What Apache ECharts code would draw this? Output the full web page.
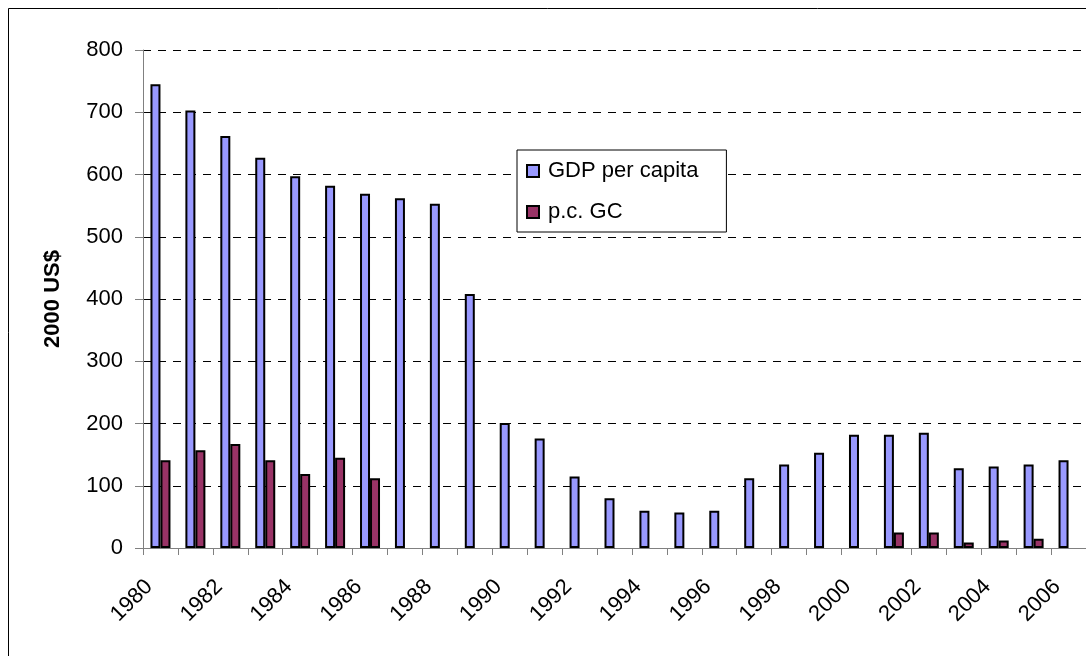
<!DOCTYPE html>
<html>
<head>
<meta charset="utf-8">
<script src="https://cdn.jsdelivr.net/npm/echarts@6/dist/echarts.min.js"></script>
<style>html,body{margin:0;padding:0;background:#fff}#c{width:1086px;height:656px}</style>
</head>
<body>
<div id="c"></div>
<script>
const years = ['1980','1981','1982','1983','1984','1985','1986','1987','1988','1989','1990','1991','1992','1993','1994','1995','1996','1997','1998','1999','2000','2001','2002','2003','2004','2005','2006'];
const gdpPerCapita = [745, 703, 662, 627, 597, 582, 569, 562, 553, 408, 201, 176, 115, 80, 60, 57, 60, 112, 134, 153, 182, 182, 185, 128, 131, 134, 141];
const pcGC = [141, 157, 167, 141, 119, 145, 112, null, null, null, null, null, null, null, null, null, null, null, null, null, null, 25, 25, 9, 12, 15, null];
const yTicks = [0, 800, 100];

const FONT = 'Liberation Sans, Arial, sans-serif';
const chart = echarts.init(document.getElementById('c'), null, {renderer: 'canvas'});
chart.setOption({
  backgroundColor: '#fff',
  animation: false,
  textStyle: {fontFamily: FONT, color: '#000'},
  graphic: [{
    type: 'rect', silent: true, z: -10,
    shape: {x: 8.5, y: 8.5, width: 1100, height: 700},
    style: {fill: 'none', stroke: '#000', lineWidth: 1}
  }],
  grid: {left: 143, top: 50, width: 945, height: 498, containLabel: false},
  legend: {
    orient: 'vertical', left: 517, top: 150,
    backgroundColor: '#fff', borderColor: '#000', borderWidth: 1,
    padding: [10, 28, 9, 9], itemGap: 19,
    itemWidth: 12, itemHeight: 12, icon: 'rect',
    textStyle: {fontFamily: FONT, fontSize: 22, color: '#000', padding: [0, 0, 0, 4]},
    data: ['GDP per capita', 'p.c. GC']
  },
  xAxis: {
    type: 'category', data: years,
    axisLine: {lineStyle: {color: '#808080', width: 1}},
    axisTick: {show: true, interval: 0, length: 7, lineStyle: {color: '#808080'}},
    axisLabel: {interval: 1, rotate: 45, margin: 24, padding: [0, 16, 0, 0], fontSize: 22, color: '#000', fontFamily: FONT},
    splitLine: {show: false}
  },
  yAxis: {
    type: 'value', min: yTicks[0], max: yTicks[1], interval: yTicks[2],
    name: '2000 US$', nameLocation: 'middle', nameGap: 79,
    nameTextStyle: {fontFamily: FONT, fontSize: 22, fontWeight: 'bold', color: '#000'},
    axisLine: {show: true, lineStyle: {color: '#808080', width: 1}},
    axisTick: {show: true, length: 8, lineStyle: {color: '#808080'}},
    axisLabel: {margin: 20, fontSize: 22, color: '#000', fontFamily: FONT},
    splitLine: {show: true, lineStyle: {color: '#000', type: [8, 7], width: 1}}
  },
  series: [
    {name: 'GDP per capita', type: 'bar', data: gdpPerCapita, barWidth: 10, barGap: '0%',
     itemStyle: {color: '#9999FF', borderColor: '#000', borderWidth: 2}},
    {name: 'p.c. GC', type: 'bar', data: pcGC, barWidth: 10,
     itemStyle: {color: '#993366', borderColor: '#000', borderWidth: 2}}
  ]
});
</script>
</body>
</html>
